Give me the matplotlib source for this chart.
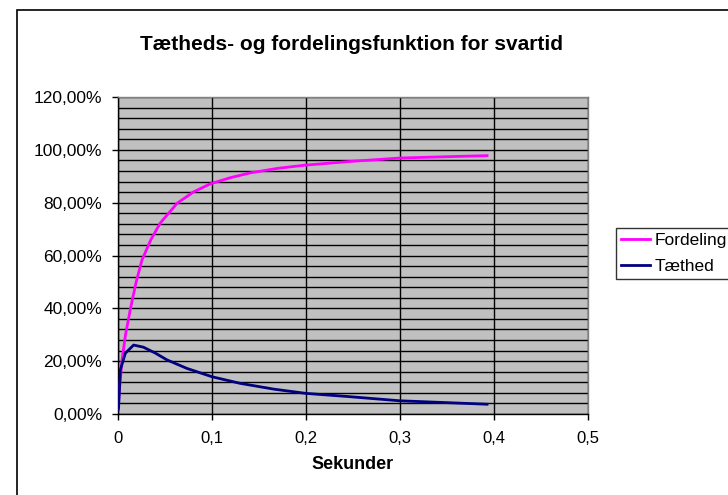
import matplotlib.pyplot as plt
from matplotlib.patches import Rectangle
from matplotlib.ticker import FuncFormatter, MultipleLocator

plt.rcParams['font.family'] = ['Liberation Sans', 'DejaVu Sans']

# Values (x in seconds, y in percent)
fordeling_x = [0.0, 0.0015, 0.0043, 0.008, 0.013, 0.019, 0.0255, 0.035, 0.045,
               0.063, 0.08, 0.098, 0.12, 0.141, 0.17, 0.199, 0.247, 0.30,
               0.35, 0.3926]
fordeling_y = [2.0, 9.0, 20.5, 30.0, 39.4, 49.5, 58.3, 66.0, 72.3,
               79.8, 84.0, 87.1, 89.5, 91.3, 93.0, 94.2, 95.6, 96.9,
               97.4, 97.8]

taethed_x = [0.0, 0.0006, 0.0025, 0.0078, 0.0166, 0.027, 0.04, 0.052, 0.073,
             0.10, 0.13, 0.166, 0.20, 0.245, 0.30, 0.35, 0.3926]
taethed_y = [1.5, 2.2, 16.7, 23.0, 26.1, 25.3, 23.0, 20.5, 17.3,
             14.1, 11.6, 9.4, 7.8, 6.6, 5.0, 4.3, 3.7]

x_ticks = [0, 0.1, 0.2, 0.3, 0.4, 0.5]
y_ticks = [0, 20, 40, 60, 80, 100, 120]

MAGENTA = '#FF00FF'
NAVY = '#000080'
PLOT_GRAY = '#C0C0C0'

fig = plt.figure(figsize=(7.28, 4.95), dpi=100)
fig.patch.set_facecolor('white')

# outer chart border (runs off the right and bottom edges)
fig.patches.append(Rectangle((16.5 / 728, -0.1), 1.0, 1 - 10 / 495 + 0.1,
                             transform=fig.transFigure, fill=False,
                             edgecolor='black', linewidth=1.2))

ax = fig.add_axes([118 / 728, 1 - 414 / 495, 470 / 728, 317 / 495])
ax.set_facecolor(PLOT_GRAY)

ax.plot(fordeling_x, fordeling_y, color=MAGENTA, linewidth=2, label='Fordeling', zorder=3)
ax.plot(taethed_x, taethed_y, color=NAVY, linewidth=2, label='Tæthed', zorder=3)

ax.set_xlim(0, 0.5)
ax.set_ylim(0, 120)
ax.set_xticks(x_ticks)
ax.set_yticks(y_ticks)
ax.yaxis.set_minor_locator(MultipleLocator(4))
ax.xaxis.set_major_formatter(FuncFormatter(lambda v, p: ('%g' % round(v, 1)).replace('.', ',')))
ax.yaxis.set_major_formatter(FuncFormatter(lambda v, p: ('%.2f%%' % v).replace('.', ',')))

ax.grid(True, which='major', axis='x', color='black', linewidth=1)
ax.grid(True, which='both', axis='y', color='black', linewidth=1)
ax.set_axisbelow(True)
ax.tick_params(axis='both', which='major', direction='out', length=4.5, width=1,
               colors='black')
ax.tick_params(axis='x', which='major', pad=8, labelsize=12)
ax.tick_params(axis='y', which='major', pad=7, labelsize=12.5)
ax.tick_params(axis='y', which='minor', length=0)

for side in ['top', 'right']:
    ax.spines[side].set_color('#808080')
for side in ['left', 'bottom']:
    ax.spines[side].set_color('black')
for spine in ax.spines.values():
    spine.set_linewidth(1)

ax.set_xlabel('Sekunder', fontsize=13, fontweight='bold', labelpad=7)
fig.text(351 / 728, 1 - 50 / 495, 'Tætheds- og fordelingsfunktion for svartid',
         ha='center', va='baseline', fontsize=15, fontweight='bold')

leg = fig.legend(loc='upper left', bbox_to_anchor=(616 / 728, 1 - 227.7 / 495),
                 frameon=True, fancybox=False, edgecolor='black', fontsize=12.5,
                 handlelength=1.67, handletextpad=0.23, borderpad=0.3,
                 borderaxespad=0, labelspacing=0.6)
leg.get_frame().set_linewidth(1)

fig.savefig('out.png', dpi=100, facecolor='white')
